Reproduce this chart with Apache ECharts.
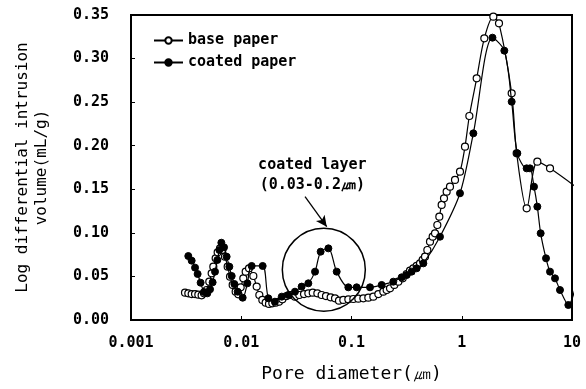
<!DOCTYPE html>
<html><head><meta charset="utf-8">
<script src="https://cdn.jsdelivr.net/npm/echarts@6/dist/echarts.min.js"></script>
<style>html,body{margin:0;padding:0;background:#fff}#c{width:586px;height:389px}</style>
</head><body><div id="c"></div>
<script>
const xTickLabels = ['0.001','0.01','0.1','1','10'];
const seriesNames = ['base paper','coated paper'];
const baseD = [0.00309,0.00331,0.00355,0.00381,0.00408,0.00437,0.00459,0.00486,0.00513,0.00539,0.00558,0.00586,0.00611,0.00642,0.00674,0.00712,0.00753,0.00791,0.00836,0.00890,0.00941,0.00988,0.01044,0.01097,0.01176,0.01287,0.01380,0.01459,0.01553,0.01665,0.01785,0.01914,0.02052,0.0220,0.0236,0.0258,0.0281,0.0307,0.0336,0.0371,0.0406,0.0445,0.0490,0.0536,0.0587,0.0647,0.0709,0.0770,0.0843,0.0936,0.1039,0.1153,0.1281,0.1421,0.1578,0.1751,0.1944,0.2084,0.2235,0.2446,0.2660,0.2912,0.3165,0.3393,0.3638,0.3900,0.4182,0.4421,0.4642,0.4874,0.5152,0.5447,0.5720,0.6005,0.6261,0.6574,0.6902,0.7297,0.7823,0.8686,0.9640,1.070,1.172,1.366,1.602,1.934,2.177,2.837,3.149,3.880,4.849,6.317,11.82];
const baseV = [0.0314,0.0306,0.0298,0.0298,0.0291,0.0283,0.0306,0.0344,0.0440,0.0536,0.0612,0.0708,0.0777,0.0822,0.0803,0.0727,0.0612,0.0497,0.0402,0.0325,0.0295,0.0375,0.0478,0.0555,0.0593,0.0505,0.0383,0.0287,0.0230,0.0199,0.0184,0.0191,0.0199,0.0210,0.0237,0.0275,0.0287,0.0268,0.0287,0.0298,0.0306,0.0314,0.0306,0.0287,0.0275,0.0260,0.0249,0.0222,0.0230,0.0237,0.0241,0.0245,0.0249,0.0256,0.0268,0.0298,0.0325,0.0344,0.0363,0.0402,0.0440,0.0478,0.0528,0.0566,0.0593,0.0620,0.0650,0.0689,0.0727,0.0803,0.0899,0.0956,0.0995,0.1090,0.1186,0.1320,0.1396,0.1473,0.1530,0.1607,0.1702,0.1989,0.2341,0.2773,0.3232,0.3481,0.3404,0.2601,0.1913,0.1281,0.1817,0.1740,0.1492];
const coatedD = [0.00331,0.00355,0.00381,0.00402,0.00428,0.00459,0.00492,0.00521,0.00550,0.00578,0.00607,0.00633,0.00660,0.00698,0.00737,0.00780,0.00819,0.00866,0.00928,0.01030,0.01136,0.01243,0.01564,0.01761,0.0202,0.0233,0.0267,0.0307,0.0353,0.0406,0.0467,0.0525,0.0617,0.0734,0.0936,0.1114,0.1472,0.1877,0.2395,0.2851,0.3165,0.3513,0.3900,0.4484,0.6349,0.9640,1.274,1.90,2.434,2.837,3.193,3.880,4.159,4.522,4.849,5.197,5.810,6.317,7.013,7.783,9.263,11.82];
const coatedV = [0.0734,0.0681,0.0601,0.0528,0.0428,0.0321,0.0306,0.0352,0.0432,0.0555,0.0689,0.0803,0.0887,0.0834,0.0727,0.0612,0.0505,0.0413,0.0325,0.0256,0.0421,0.0620,0.0620,0.0249,0.0210,0.0268,0.0287,0.0325,0.0383,0.0421,0.0555,0.0784,0.0822,0.0555,0.0375,0.0375,0.0375,0.0402,0.0440,0.0490,0.0516,0.0555,0.0593,0.0650,0.0956,0.1454,0.2142,0.3240,0.3091,0.2505,0.1913,0.1740,0.1740,0.1530,0.1301,0.0995,0.0708,0.0555,0.0478,0.0344,0.0172,0.0612];
// annotation anchors (data coordinates)
const circleCenter = [0.0561, 0.0577];
const noteCenter = [0.0441, 0.1664];
const arrowFrom = [0.0379, 0.1415];
const arrowTo = [0.0596, 0.1071];
const noteText = 'coated layer\n(0.03-0.2㎛)';
const xMin = 0.001, xMax = 10;

const mono = '"DejaVu Sans Mono", monospace';
function toData(ds, vs) {
  return ds.map((d, i) => ({ value: [d, vs[i]], symbol: d > xMax ? 'none' : 'circle' }));
}
const chart = echarts.init(document.getElementById('c'), null, { renderer: 'canvas' });
chart.setOption({
  animation: false,
  backgroundColor: '#fff',
  grid: { left: 131, right: 14, top: 15, bottom: 69, show: true, borderColor: '#000', borderWidth: 2, backgroundColor: 'transparent' },
  legend: {
    orient: 'vertical', left: 148, top: 28, itemWidth: 29, itemHeight: 8, itemGap: 7,
    textStyle: { fontFamily: mono, fontWeight: 'bold', fontSize: 15, color: '#000' },
    data: seriesNames
  },
  xAxis: {
    type: 'log', logBase: 10, min: xMin, max: xMax,
    axisLine: { show: true, lineStyle: { color: '#000', width: 2 } },
    axisTick: { show: true, inside: true, length: 4, lineStyle: { color: '#000' } },
    minorTick: { show: false },
    splitLine: { show: false },
    axisLabel: { margin: 16, fontFamily: mono, fontWeight: 'bold', fontSize: 15, color: '#000',
      formatter: v => xTickLabels[Math.round(Math.log10(v)) + 3] },
    name: 'Pore diameter(㎛)', nameLocation: 'middle', nameGap: 45,
    nameTextStyle: { fontFamily: mono, fontSize: 18, color: '#000' }
  },
  yAxis: {
    type: 'value', min: 0, max: 0.35, interval: 0.05,
    axisLine: { show: true, lineStyle: { color: '#000', width: 2 } },
    axisTick: { show: true, inside: true, length: 4, lineStyle: { color: '#000' } },
    splitLine: { show: false },
    axisLabel: { margin: 22, fontFamily: mono, fontWeight: 'bold', fontSize: 15, color: '#000',
      formatter: v => v.toFixed(2) },
    name: 'Log differential intrusion\nvolume(mL/g)', nameLocation: 'middle', nameRotate: 90, nameGap: 80,
    nameTextStyle: { fontFamily: mono, fontSize: 16, lineHeight: 19, color: '#000' }
  },
  series: [
    {
      name: seriesNames[0], type: 'line', data: toData(baseD, baseV), clip: false,
      symbol: 'circle', symbolSize: 7, smooth: 0.3, z: 3,
      lineStyle: { color: '#000', width: 1.2 },
      itemStyle: { color: '#fff', borderColor: '#000', borderWidth: 1.2 }
    },
    {
      name: seriesNames[1], type: 'line', data: toData(coatedD, coatedV), clip: false,
      symbol: 'circle', symbolSize: 7, smooth: 0.3, z: 4,
      lineStyle: { color: '#000', width: 1.2 },
      itemStyle: { color: '#000', borderColor: '#000', borderWidth: 1 },
      markLine: {
        silent: true, symbol: ['none', 'arrow'], symbolSize: [8, 11],
        lineStyle: { color: '#000', width: 1.3, type: 'solid' },
        label: { show: false },
        data: [[{ coord: arrowFrom }, { coord: arrowTo }]]
      }
    }
  ]
});
const cc = chart.convertToPixel({ xAxisIndex: 0, yAxisIndex: 0 }, circleCenter);
const nc = chart.convertToPixel({ xAxisIndex: 0, yAxisIndex: 0 }, noteCenter);
chart.setOption({
  graphic: [
    { type: 'circle', shape: { cx: cc[0], cy: cc[1], r: 41.5 }, style: { fill: 'none', stroke: '#000', lineWidth: 1.5 }, z: 10 },
    { type: 'text', x: nc[0], y: nc[1], style: { text: noteText, fill: '#000', font: 'bold 15px ' + mono, align: 'center', verticalAlign: 'middle', lineHeight: 20 }, z: 10 }
  ]
});
</script>
</body></html>
